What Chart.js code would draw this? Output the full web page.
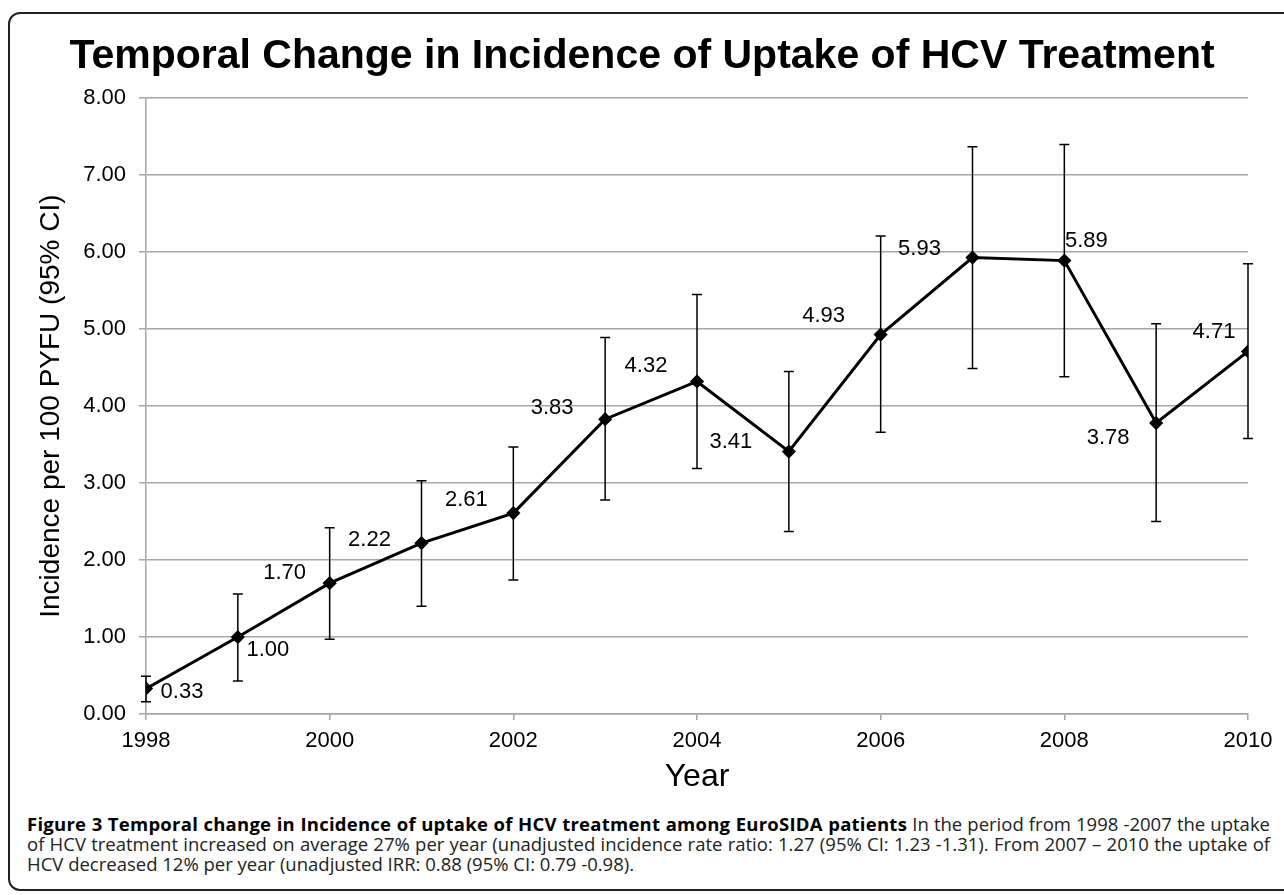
<!DOCTYPE html>
<html>
<head>
<meta charset="utf-8">
<script src="https://cdn.jsdelivr.net/npm/chart.js@4.4.1/dist/chart.umd.min.js"></script>
<style>
  html, body { margin: 0; padding: 0; background: #fff; width: 1284px; height: 895px; overflow: hidden; }
  #frame {
    position: absolute; left: 8px; top: 12px; width: 1310px; height: 879px;
    border: 2px solid #222; border-radius: 12px; box-sizing: border-box;
  }
  #wrap { position: absolute; left: 0; top: 0; width: 1284px; height: 796px; }
  #caption {
    position: absolute; left: 27px; top: 814px; width: 1243px;
    font-family: "Open Sans", sans-serif; font-size: 18.5px; line-height: 20px;
    color: #222; text-align: justify;
  }
  #caption b { color: #000; letter-spacing: 0.25px; }
</style>
</head>
<body>
<div id="frame"></div>
<div id="wrap"><canvas id="incidencia"></canvas></div>
<div id="caption"><b>Figure 3 Temporal change in Incidence of uptake of HCV treatment among EuroSIDA patients</b> In the period from 1998 -2007 the uptake of HCV treatment increased on average 27% per year (unadjusted incidence rate ratio: 1.27 (95% CI: 1.23 -1.31). From 2007 – 2010 the uptake of HCV decreased 12% per year (unadjusted IRR: 0.88 (95% CI: 0.79 -0.98).</div>
<script>
const years = [1998, 1999, 2000, 2001, 2002, 2003, 2004, 2005, 2006, 2007, 2008, 2009, 2010];
const incidence = [0.33, 1.00, 1.70, 2.22, 2.61, 3.83, 4.32, 3.41, 4.93, 5.93, 5.89, 3.78, 4.71];
const ci_lower = [0.16, 0.43, 0.97, 1.40, 1.74, 2.78, 3.19, 2.37, 3.66, 4.49, 4.38, 2.50, 3.58];
const ci_upper = [0.49, 1.56, 2.42, 3.03, 3.47, 4.89, 5.45, 4.45, 6.21, 7.37, 7.40, 5.07, 5.85];
const y_ticks = [0, 1, 2, 3, 4, 5, 6, 7, 8];
const x_ticks = [1998, 2000, 2002, 2004, 2006, 2008, 2010];

// where each value label sits relative to its point (px)
const label_dx = [36, 30, -45, -52, -47, -53, -51, -58, -57, -53, 22, -48, -34];
const label_dy = [3, 13, -10, -3, -13, -11, -16, -10, -19, -9, -20, 15, -20];

const plugin_barras_error = {
  id: "barrasError",
  beforeDatasetsDraw: (chart) => {
    const ctx = chart.ctx;
    const x = chart.scales.x;
    const y = chart.scales.y;
    ctx.save();
    ctx.strokeStyle = "#000";
    ctx.lineWidth = 1.5;
    years.forEach((year, i) => {
      const px = x.getPixelForValue(year);
      const top = y.getPixelForValue(ci_upper[i]);
      const bottom = y.getPixelForValue(ci_lower[i]);
      ctx.beginPath();
      ctx.moveTo(px, top);
      ctx.lineTo(px, bottom);
      ctx.moveTo(px - 5, top);
      ctx.lineTo(px + 5, top);
      ctx.moveTo(px - 5, bottom);
      ctx.lineTo(px + 5, bottom);
      ctx.stroke();
    });
    ctx.restore();
  },
  afterDatasetsDraw: (chart) => {
    const ctx = chart.ctx;
    const x = chart.scales.x;
    const y = chart.scales.y;
    ctx.save();
    ctx.fillStyle = "#000";
    ctx.font = "22px 'Liberation Sans', Arial, sans-serif";
    ctx.textAlign = "center";
    ctx.textBaseline = "middle";
    years.forEach((year, i) => {
      const px = x.getPixelForValue(year) + label_dx[i];
      const py = y.getPixelForValue(incidence[i]) + label_dy[i];
      ctx.fillText(incidence[i].toFixed(2), px, py);
    });
    ctx.restore();
  },
};

const gris = "#a6a6a6";
const ctx = document.getElementById("incidencia").getContext("2d");
const chart_incidencia = new Chart(ctx, {
  type: "line",
  data: {
    datasets: [
      {
        label: "Incidence",
        data: years.map((year, i) => ({ x: year, y: incidence[i] })),
        borderColor: "#000",
        backgroundColor: "#000",
        borderWidth: 3,
        pointStyle: "rectRot",
        pointRadius: 5,
        pointBackgroundColor: "#000",
        tension: 0,
      },
    ],
  },
  options: {
    responsive: true,
    maintainAspectRatio: false,
    animation: false,
    layout: { padding: { left: 36, right: 36, top: 0, bottom: 0 } },
    scales: {
      x: {
        type: "linear",
        min: 1998,
        max: 2010,
        afterBuildTicks: (axis) => {
          axis.ticks = x_ticks.map((v) => ({ value: v }));
        },
        ticks: {
          color: "#000",
          font: { family: "'Liberation Sans', Arial", size: 22 },
          padding: 8,
          callback: (value) => String(value),
        },
        grid: { display: true, drawOnChartArea: false, color: gris, lineWidth: 1.5, tickLength: 6 },
        border: { color: gris, width: 1.5 },
        title: {
          display: true,
          text: "Year",
          color: "#000",
          font: { family: "'Liberation Sans', Arial", size: 32 },
          padding: { top: 0, bottom: 0 },
        },
        afterFit: (axis) => { axis.height = 82; },
      },
      y: {
        min: 0,
        max: 8,
        afterBuildTicks: (axis) => {
          axis.ticks = y_ticks.map((v) => ({ value: v }));
        },
        ticks: {
          color: "#000",
          font: { family: "'Liberation Sans', Arial", size: 22 },
          padding: 13,
          callback: (value) => value.toFixed(2),
        },
        grid: { color: gris, lineWidth: 1.5, tickLength: 7 },
        border: { color: gris, width: 1.5 },
        title: {
          display: true,
          text: "Incidence per 100 PYFU (95% CI)",
          color: "#000",
          font: { family: "'Liberation Sans', Arial", size: 28 },
          padding: { top: -2, bottom: 0 },
        },
        afterFit: (axis) => { axis.width = 110; },
      },
    },
    plugins: {
      legend: { display: false },
      tooltip: { enabled: false },
      title: {
        display: true,
        text: "Temporal Change in Incidence of Uptake of HCV Treatment",
        color: "#000",
        font: { family: "'Liberation Sans', Arial", size: 41, weight: "bold" },
        padding: { top: 32, bottom: 17 },
      },
    },
  },
  plugins: [plugin_barras_error],
});
</script>
</body>
</html>
